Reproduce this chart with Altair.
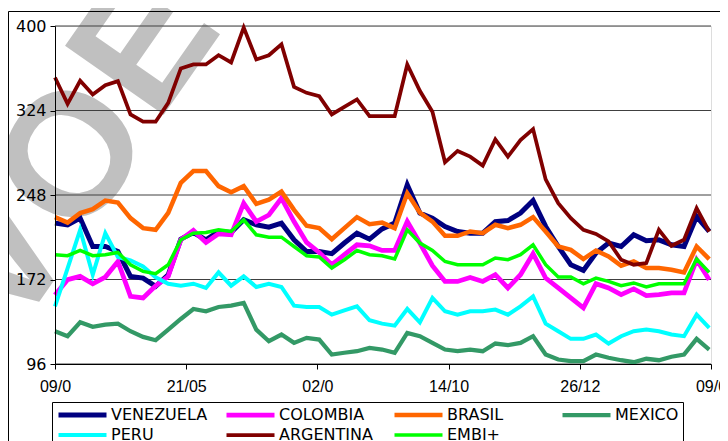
import altair as alt
import pandas as pd

# weekly observations (day offsets from first date)
tick_days = [0, 73, 146, 219, 292, 365]
tick_labels = ["09/0", "21/05", "02/0", "14/10", "26/12", "09/0"]
y_ticks = [96, 172, 248, 324, 400]

series_names = ["VENEZUELA", "COLOMBIA", "BRASIL", "MEXICO", "PERU", "ARGENTINA", "EMBI+"]
series_colors = ["#000080", "#FF00FF", "#FF6600", "#339966", "#00FFFF", "#800000", "#00FF00"]
series_widths = [5, 3.5, 3.5, 3.5, 3.5, 3.5, 3.5]

venezuela = [222.7, 221.2, 227.2, 201.7, 201.7, 197.2, 174.8, 173.3, 165.8, 176.3,
             208.3, 214.3, 207.7, 215.2, 214.3, 225.7, 221.2, 219.0, 222.7, 207.7,
             197.2, 197.2, 195.2, 204.8, 213.7, 208.3, 217.5, 222.7, 257.0, 231.7,
             227.2, 219.7, 215.2, 213.7, 213.7, 224.0, 225.0, 231.7, 243.0, 219.7,
             201.7, 185.3, 180.2, 195.8, 204.8, 201.7, 212.2, 206.8, 207.7, 203.2,
             201.7, 228.6, 215.2]
colombia = [158.0, 171.8, 174.8, 168.2, 174.2, 188.2, 156.8, 155.4, 166.4, 174.8,
            207.7, 216.1, 205.3, 213.1, 212.2, 240.6, 224.1, 230.0, 245.1, 224.1,
            205.3, 196.3, 185.3, 194.3, 203.2, 202.3, 198.1, 198.1, 224.1, 204.8,
            184.4, 170.3, 170.3, 173.9, 170.3, 176.3, 164.4, 176.3, 195.2, 173.3,
            164.4, 155.4, 146.4, 168.2, 164.4, 158.4, 163.5, 157.5, 158.4, 159.9,
            159.9, 189.8, 171.8]
brasil = [228.1, 223.2, 231.7, 235.3, 243.0, 241.2, 227.2, 218.2, 216.7, 232.0,
          259.0, 269.6, 269.6, 256.0, 250.5, 256.0, 240.0, 243.8, 251.0, 234.6,
          220.3, 218.2, 208.3, 218.2, 228.1, 221.8, 223.2, 218.2, 249.6, 232.2,
          224.1, 211.3, 211.3, 215.2, 213.7, 221.2, 218.2, 221.2, 228.1, 215.2,
          201.7, 198.7, 190.4, 198.1, 192.7, 184.4, 188.2, 182.3, 182.3, 180.8,
          178.4, 201.7, 190.4]
mexico = [125.5, 121.0, 133.5, 129.4, 131.4, 132.3, 125.5, 120.4, 117.4, 126.9,
          136.5, 145.5, 143.4, 147.3, 148.5, 150.9, 126.9, 116.5, 122.5, 115.0,
          119.5, 118.0, 104.5, 106.1, 107.5, 110.5, 109.0, 106.1, 124.0, 121.0,
          115.0, 109.0, 107.5, 109.0, 107.5, 114.4, 112.9, 115.0, 121.0, 104.5,
          100.0, 98.5, 98.5, 104.5, 101.6, 99.4, 97.6, 100.7, 99.4, 102.5,
          104.5, 118.6, 109.0]
peru = [147.9, 182.0, 216.7, 176.3, 213.7, 192.2, 189.1, 183.8, 174.0, 168.2,
        166.4, 168.2, 164.4, 178.4, 166.4, 174.8, 165.3, 168.2, 165.3, 148.5,
        147.3, 147.3, 140.4, 144.3, 147.9, 135.3, 132.3, 130.5, 145.5, 133.5,
        155.4, 143.4, 140.4, 143.4, 143.4, 144.9, 140.4, 147.9, 156.8, 132.3,
        125.5, 118.6, 118.6, 122.5, 114.4, 121.0, 125.5, 127.0, 125.5, 122.5,
        121.0, 140.4, 128.5]
argentina = [353.7, 330.0, 350.7, 338.4, 346.8, 350.4, 320.5, 313.9, 313.9, 330.9,
             361.8, 365.4, 365.4, 373.7, 367.2, 398.6, 369.9, 373.7, 383.6, 345.3,
             339.9, 336.9, 320.5, 327.3, 334.0, 319.0, 319.0, 319.0, 365.4, 341.7,
             322.8, 277.4, 287.6, 282.5, 274.4, 298.0, 282.5, 297.4, 307.3, 262.0,
             240.7, 227.2, 216.7, 213.0, 206.2, 189.8, 185.3, 186.8, 216.7, 202.3,
             207.7, 236.2, 215.0]
embi = [194.3, 193.4, 198.1, 193.4, 194.3, 196.3, 185.3, 179.3, 177.2, 185.3,
        207.7, 213.7, 214.3, 216.7, 215.2, 225.7, 212.2, 210.1, 210.1, 201.7,
        193.4, 192.2, 182.3, 189.8, 198.1, 194.3, 193.4, 190.4, 216.7, 204.8,
        198.1, 188.2, 185.3, 185.3, 185.3, 191.3, 189.8, 194.3, 203.2, 185.3,
        174.2, 174.2, 168.2, 173.3, 170.3, 166.4, 168.9, 165.3, 168.2, 168.2,
        168.2, 190.4, 178.4]

all_values = [venezuela, colombia, brasil, mexico, peru, argentina, embi]

rows = []
for name, vals in zip(series_names, all_values):
    for i, v in enumerate(vals):
        rows.append({"day": 7 * i, "value": v, "series": name})
df = pd.DataFrame(rows)
grid_df = pd.DataFrame({"value": y_ticks})

label_expr = "[" + ",".join("'%s'" % t for t in tick_labels) + "][round(datum.value/73)]"

x_enc = alt.X(
    "day:Q",
    scale=alt.Scale(domain=[0, 365], nice=False, zero=False),
    axis=alt.Axis(values=tick_days, labelExpr=label_expr, title=None, grid=False,
                  tickSize=5, labelFlush=False, labelOverlap=False, labelPadding=9,
                  labelFont="Liberation Sans", labelFontSize=16, labelColor="black",
                  tickColor="black", domainColor="black", zindex=1),
)
y_enc = alt.Y(
    "value:Q",
    scale=alt.Scale(domain=[96, 400], nice=False, zero=False),
    axis=alt.Axis(values=y_ticks, title=None, grid=False,
                  tickSize=5, labelPadding=4, labelFont="DejaVu Sans",
                  labelFontSize=16, labelColor="black", tickColor="black",
                  domainColor="black", zindex=1),
)

legend = alt.Legend(
    orient="none", legendX=-3, legendY=376, direction="horizontal", columns=4,
    gridAlign="all", columnPadding=16, rowPadding=2, clipHeight=18,
    symbolType="stroke", symbolSize=2304, labelOffset=2,
    labelFont="DejaVu Sans", labelFontSize=16, labelColor="black",
    strokeColor="black", fillColor="white", padding=4, labelLimit=200,
)
color_enc = alt.Color("series:N", title=None, legend=legend,
                      scale=alt.Scale(domain=series_names, range=series_colors))
width_enc = alt.StrokeWidth("series:N", title=None, legend=legend,
                            scale=alt.Scale(domain=series_names, range=series_widths))

# background watermark letters (decoration)
wm_data = alt.Data(values=[{"k": 1}])
def wm_letter(letter, px, py):
    return alt.Chart(wm_data).mark_text(
        text=letter, angle=305, fontSize=175, font="Liberation Sans",
        fontWeight="bold", color="#c0c0c0", align="center", baseline="middle"
    ).encode(x=alt.value(px), y=alt.value(py))

layers = [wm_letter("V", -52, 235), wm_letter("O", 20, 132), wm_letter("E", 92, 20)]

# horizontal gridlines at the y ticks
layers.append(alt.Chart(grid_df).mark_rule(color="#404040", strokeWidth=1).encode(y=y_enc))

for name in series_names:
    layers.append(
        alt.Chart(df).transform_filter(alt.datum.series == name)
        .mark_line()
        .encode(x=x_enc, y=y_enc, color=color_enc, strokeWidth=width_enc)
    )

frame_data = alt.Data(values=[{"k": 1}])
frame_v = alt.Chart(frame_data).mark_rule(color="black", strokeWidth=1).encode(
    x=alt.value(-46.5), y=alt.value(-14.5), y2=alt.value(430))
frame_h = alt.Chart(frame_data).mark_rule(color="black", strokeWidth=1).encode(
    x=alt.value(-46.5), x2=alt.value(680), y=alt.value(-14.5))
layers += [frame_v, frame_h]

chart = alt.layer(*layers).properties(
    width=656, height=338,
    padding={"left": 47, "top": 18, "right": 9, "bottom": 77},
    autosize=alt.AutoSizeParams(type="none"),
).configure_view(
    stroke="#808080", strokeWidth=1
).configure(background="white")

chart.save("out.html", embed_options={"renderer": "svg", "actions": False})
